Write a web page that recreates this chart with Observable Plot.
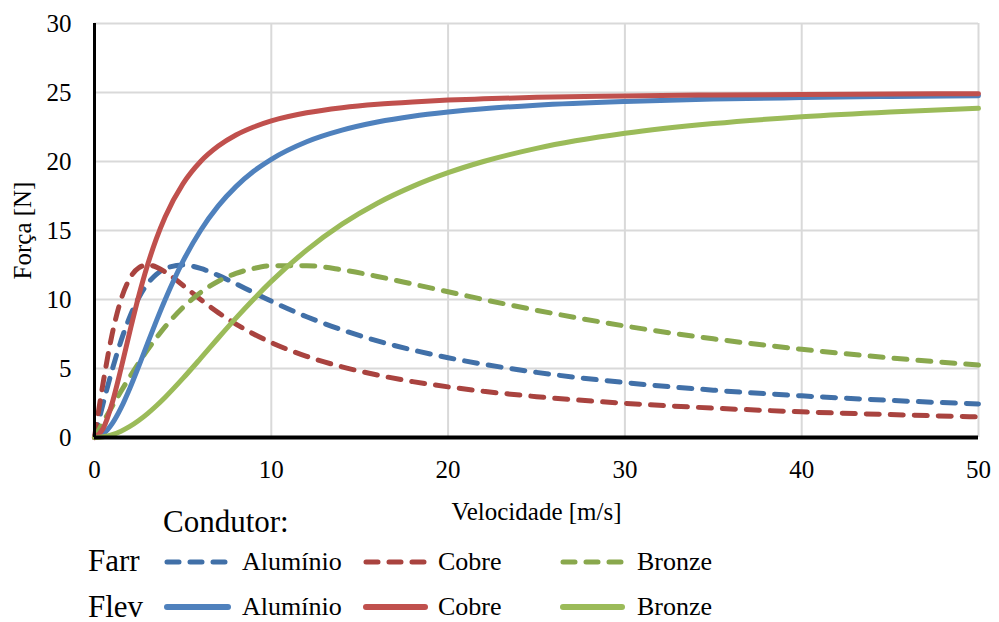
<!DOCTYPE html>
<html>
<head>
<meta charset="utf-8">
<script src="https://cdn.jsdelivr.net/npm/d3@7"></script>
<script src="https://cdn.jsdelivr.net/npm/@observablehq/plot@0.6"></script>
<style>
  html, body { margin: 0; padding: 0; background: #fff; }
  #wrap { position: relative; width: 999px; height: 622px; overflow: hidden; font-family: "Liberation Serif", "Times New Roman", serif; color: #000; }
  #chart { position: absolute; left: 0; top: 0; }
  #chart svg, #chart svg g, #chart svg text { font-family: "Liberation Serif", "Times New Roman", serif !important; font-variant: normal !important; font-variant-numeric: normal !important; }
  .lg { position: absolute; white-space: nowrap; line-height: 1; }
  .big { font-size: 31px; }
  .sm { font-size: 26px; }
  .sw { position: absolute; }
</style>
</head>
<body>
<div id="wrap">
  <div id="chart"></div>
  <div id="legend"></div>
</div>
<script>
// Data
const velocidade = [0, 0.5, 1, 1.5, 2, 2.5, 3, 3.5, 4, 5, 6, 7, 8, 9, 10, 12, 14, 16, 18, 20, 22, 25, 30, 35, 40, 45, 50];
const farrAluminio = [0, 2.52, 4.9, 7.0, 8.75, 10.12, 11.14, 11.82, 12.25, 12.5, 12.25, 11.75, 11.14, 10.5, 9.88, 8.75, 7.8, 7.0, 6.34, 5.78, 5.31, 4.72, 3.98, 3.43, 3.02, 2.69, 2.43];
const farrCobre = [0, 4.05, 7.5, 10.0, 11.54, 12.3, 12.5, 12.35, 12.0, 11.03, 10.0, 9.05, 8.22, 7.5, 6.88, 5.88, 5.12, 4.53, 4.05, 3.67, 3.35, 2.96, 2.48, 2.13, 1.86, 1.66, 1.49];
const farrBronze = [0, 1.13, 2.25, 3.35, 4.4, 5.4, 6.35, 7.22, 8.03, 9.42, 10.51, 11.32, 11.89, 12.25, 12.44, 12.45, 12.15, 11.67, 11.12, 10.56, 10.0, 9.22, 8.08, 7.15, 6.39, 5.77, 5.25];
const flevAluminio = [0, 0.26, 1.0, 2.14, 3.57, 5.16, 6.82, 8.45, 10.0, 12.76, 15.0, 16.78, 18.18, 19.29, 20.16, 21.43, 22.27, 22.86, 23.28, 23.58, 23.82, 24.08, 24.35, 24.52, 24.63, 24.71, 24.76];
const flevCobre = [0, 0.68, 2.5, 5.0, 7.69, 10.25, 12.5, 14.41, 16.0, 18.38, 20.0, 21.12, 21.92, 22.5, 22.94, 23.53, 23.9, 24.15, 24.32, 24.45, 24.54, 24.65, 24.75, 24.82, 24.86, 24.89, 24.91];
const flevBronze = [0, 0.05, 0.2, 0.46, 0.8, 1.23, 1.73, 2.3, 2.92, 4.28, 5.73, 7.21, 8.65, 10.02, 11.31, 13.58, 15.46, 16.98, 18.2, 19.19, 20.0, 20.95, 22.04, 22.75, 23.24, 23.59, 23.85];
const materiais = ["Alumínio", "Cobre", "Bronze"];
const forcas = ["Farr", "Flev"];
const xTicks = [0, 10, 20, 30, 40, 50];
const yTicks = [0, 5, 10, 15, 20, 25, 30];

const seriesList = [
  {forca: "Farr", material: "Alumínio", values: farrAluminio},
  {forca: "Farr", material: "Cobre", values: farrCobre},
  {forca: "Farr", material: "Bronze", values: farrBronze},
  {forca: "Flev", material: "Alumínio", values: flevAluminio},
  {forca: "Flev", material: "Cobre", values: flevCobre},
  {forca: "Flev", material: "Bronze", values: flevBronze}
];
const colors = {
  "Farr": {"Alumínio": "#4170A8", "Cobre": "#A9433F", "Bronze": "#89A84D"},
  "Flev": {"Alumínio": "#4F81BD", "Cobre": "#C0504D", "Bronze": "#9BBB59"}
};
const rows = seriesList.flatMap(s => velocidade.map((v, i) => ({v, f: s.values[i], forca: s.forca, material: s.material})));

const lineMarks = seriesList.map(s => {
  const data = rows.filter(r => r.forca === s.forca && r.material === s.material);
  return Plot.line(data, {
    x: "v", y: "f", curve: "monotone-x",
    stroke: colors[s.forca][s.material],
    strokeWidth: 5,
    strokeDasharray: s.forca === "Farr" ? "13,11" : null,
    strokeLinecap: "round"
  });
});

const serif = "'Liberation Serif', 'Times New Roman', serif";
const chart = Plot.plot({
  width: 999,
  height: 530,
  marginTop: 23,
  marginLeft: 94,
  marginRight: 21,
  marginBottom: 93,
  style: {fontFamily: serif, fontSize: "25px", color: "#000", background: "#fff"},
  x: {domain: [0, 50]},
  y: {domain: [0, 30]},
  marks: [
    Plot.gridX(xTicks.filter(d => d > 0), {stroke: "#D9D9D9", strokeOpacity: 1, strokeWidth: 2}),
    Plot.gridY(yTicks.filter(d => d > 0), {stroke: "#D9D9D9", strokeOpacity: 1, strokeWidth: 2}),
    Plot.axisX(xTicks, {tickSize: 0, tickPadding: 23, fontSize: 25, fontFamily: serif, fontVariant: "normal", label: "Velocidade [m/s]", labelAnchor: "center", labelArrow: "none", labelOffset: 82}),
    Plot.axisY(yTicks, {tickSize: 0, tickPadding: 23, fontSize: 25, fontFamily: serif, fontVariant: "normal", label: "Força [N]", labelAnchor: "center", labelArrow: "none", labelOffset: 81}),
    ...lineMarks,
    Plot.ruleX([0], {stroke: "#000", strokeWidth: 3}),
    Plot.ruleY([0], {stroke: "#000", strokeWidth: 4})
  ]
});
document.getElementById("chart").appendChild(chart);

// Legend (HTML)
const legend = document.getElementById("legend");
function addText(txt, cls, left, baseline, fs) {
  const d = document.createElement("div");
  d.className = "lg " + cls;
  d.textContent = txt;
  d.style.left = left + "px";
  d.style.top = (baseline - 0.8375 * fs) + "px";
  legend.appendChild(d);
}
function addSwatch(color, dashed, left, right, y) {
  const ns = "http://www.w3.org/2000/svg";
  const svg = document.createElementNS(ns, "svg");
  svg.setAttribute("class", "sw");
  svg.setAttribute("width", right - left + 10);
  svg.setAttribute("height", 12);
  svg.style.left = (left - 5) + "px";
  svg.style.top = (y - 6) + "px";
  const ln = document.createElementNS(ns, "line");
  ln.setAttribute("x1", 5 + 3); ln.setAttribute("x2", right - left + 5 - 3);
  ln.setAttribute("y1", 6); ln.setAttribute("y2", 6);
  ln.setAttribute("stroke", color);
  ln.setAttribute("stroke-width", dashed ? 5 : 6);
  ln.setAttribute("stroke-linecap", "round");
  if (dashed) ln.setAttribute("stroke-dasharray", "12,11");
  svg.appendChild(ln);
  legend.appendChild(svg);
}
addText("Condutor:", "big", 163, 532, 31);
const rowY = {"Farr": {line: 562, base: 571, labelBase: 571}, "Flev": {line: 607, base: 617, labelBase: 616}};
const swatchX = {"Alumínio": [164, 231, 242], "Cobre": [363, 428, 438], "Bronze": [560, 625, 637]};
forcas.forEach(f => {
  addText(f, "big", 88, rowY[f].base, 31);
  materiais.forEach(m => {
    const [a, b, t] = swatchX[m];
    addSwatch(colors[f][m], f === "Farr", a, b, rowY[f].line);
    addText(m, "sm", t, rowY[f].labelBase, 26);
  });
});
</script>
</body>
</html>
